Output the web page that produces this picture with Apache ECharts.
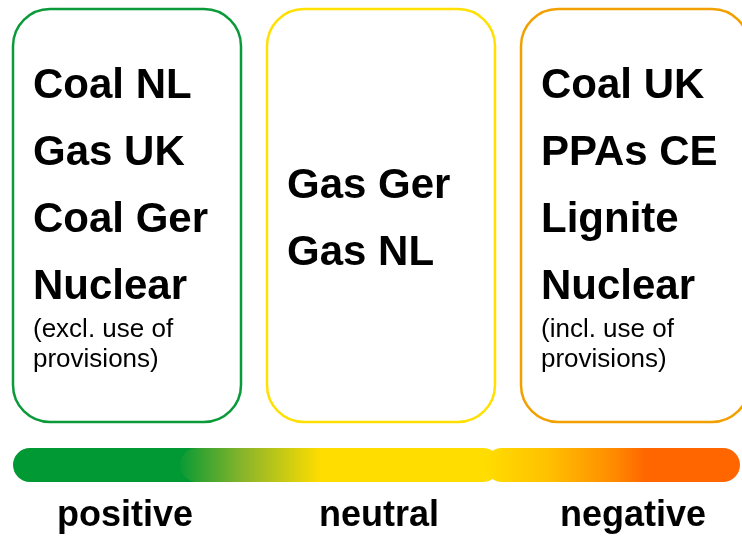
<!DOCTYPE html>
<html>
<head>
<meta charset="utf-8">
<script src="https://cdn.jsdelivr.net/npm/echarts@6/dist/echarts.min.js"></script>
<style>
  html, body { margin: 0; padding: 0; background: #fff; }
  #chart { width: 742px; height: 536px; }
</style>
</head>
<body>
<div id="chart"></div>
<script>
// categories shown in each box
const groups = ['positive', 'neutral', 'negative'];
const groupItems = [
  ['Coal NL', 'Gas UK', 'Coal Ger', 'Nuclear'],
  ['Gas Ger', 'Gas NL'],
  ['Coal UK', 'PPAs CE', 'Lignite', 'Nuclear']
];
const groupNotes = [
  ['(excl. use of', 'provisions)'],
  [],
  ['(incl. use of', 'provisions)']
];
const boxColors = ['#0a9a3a', '#ffe000', '#f2a000'];

const FONT = 'Liberation Sans';

const boxX = [13, 267, 521];
const boxW = 228, boxTop = 9, boxH = 413;
const itemStep = 67;

const graphic = [];

function label(x, y, text, size, weight, align) {
  return {
    type: 'text',
    x: x, y: y,
    style: {
      text: text, fontFamily: FONT, fontSize: size, fontWeight: weight,
      fill: '#000', align: align || 'left', verticalAlign: 'middle'
    }
  };
}

groups.forEach((g, i) => {
  graphic.push({
    type: 'rect',
    shape: { x: boxX[i], y: boxTop, width: boxW, height: boxH, r: 37 },
    style: { fill: '#fff', stroke: boxColors[i], lineWidth: 2.5 }
  });
  const items = groupItems[i];
  // middle box is vertically centred
  const firstY = items.length === 4 ? 86 : 186;
  items.forEach((t, k) => {
    graphic.push(label(boxX[i] + 20, firstY + k * itemStep, t, 42, 'bold'));
  });
  groupNotes[i].forEach((t, k) => {
    graphic.push(label(boxX[i] + 20, 330 + k * 30, t, 26, 'normal'));
  });
  graphic.push(label(boxX[i] + boxW / 2 - 2, 516, g, 36, 'bold', 'center'));
});

// colour scale bar, built from three overlapping rounded pieces
const barY = 448, barH = 34;
graphic.push({
  type: 'rect',
  shape: { x: 13, y: barY, width: 200, height: barH, r: barH / 2 },
  style: { fill: '#009933' }
});
graphic.push({
  type: 'rect',
  shape: { x: 180, y: barY, width: 320, height: barH, r: barH / 2 },
  style: {
    fill: new echarts.graphic.LinearGradient(0, 0, 1, 0, [
      { offset: 0, color: '#0a9a35' },
      { offset: 0.2, color: '#8bb52a' },
      { offset: 0.44, color: '#ffdd00' },
      { offset: 1, color: '#ffdd00' }
    ])
  }
});
graphic.push({
  type: 'rect',
  shape: { x: 485, y: barY, width: 255, height: barH, r: barH / 2 },
  style: {
    fill: new echarts.graphic.LinearGradient(0, 0, 1, 0, [
      { offset: 0, color: '#ffdd00' },
      { offset: 0.25, color: '#ffc000' },
      { offset: 0.5, color: '#ff8c00' },
      { offset: 0.63, color: '#ff6600' },
      { offset: 1, color: '#ff6600' }
    ])
  }
});

const chart = echarts.init(document.getElementById('chart'), null, { renderer: 'canvas' });
chart.setOption({
  backgroundColor: '#fff',
  animation: false,
  graphic: graphic
});
</script>
</body>
</html>
